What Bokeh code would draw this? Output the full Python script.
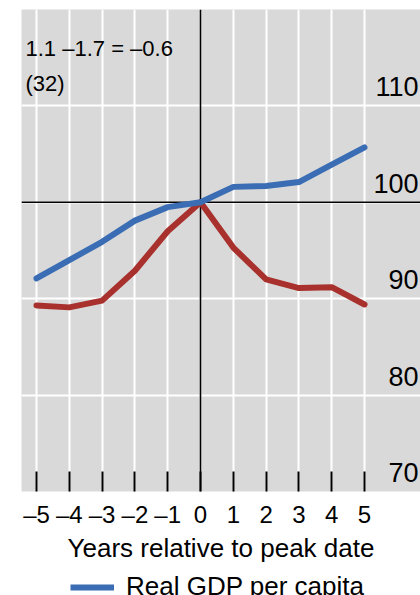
from bokeh.plotting import figure
from bokeh.layouts import column
from bokeh.models import FixedTicker, Grid, Span, Label, Legend, LegendItem, ColumnDataSource, Range1d
from bokeh.core.properties import value
from bokeh.embed import file_html
from bokeh.resources import INLINE

# ---- data ----
years = [-5, -4, -3, -2, -1, 0, 1, 2, 3, 4, 5]
real_gdp_per_capita = [92.1, 94.0, 95.9, 98.1, 99.5, 100.0, 101.6, 101.7, 102.1, 103.9, 105.7]
second_series = [89.3, 89.1, 89.8, 92.9, 97.0, 100.0, 95.3, 92.0, 91.1, 91.2, 89.4]
x_tick_labels = ["–5", "–4", "–3", "–2", "–1", "0", "1", "2", "3", "4", "5"]
y_tick_values = [70, 80, 90, 100, 110]
y_tick_labels = ["70", "80", "90", "100", "110"]
y_grid_values = [80, 90, 100, 110]
annotation_lines = ["1.1 –1.7 = –0.6", "(32)"]
legend_label = "Real GDP per capita"
x_axis_title = "Years relative to peak date"

# ---- style ----
FONT = "Liberation Sans"
BLUE = "#3a6db4"
RED = "#a8312d"
BG = "#d9d9d9"

X_START, X_END = -5.457, 6.707
Y_START, Y_END = 70, 120

p = figure(width=420, height=565, output_backend="svg", toolbar_location=None,
           x_range=Range1d(X_START, X_END), y_range=Range1d(Y_START, Y_END),
           y_axis_location=None, min_border_left=21, min_border_right=0,
           min_border_top=9, min_border_bottom=74)
p.background_fill_color = BG
p.border_fill_color = "white"
p.outline_line_color = None

# grid
p.xgrid.ticker = FixedTicker(ticks=years)
p.xgrid.grid_line_color = "white"
p.xgrid.grid_line_width = 2
ygrid = Grid(dimension=1, ticker=FixedTicker(ticks=y_grid_values),
             grid_line_color="white", grid_line_width=2)
p.add_layout(ygrid)

# zero lines
p.add_layout(Span(location=100, dimension="width", line_color="black", line_width=1.6, level="underlay"))
p.add_layout(Span(location=0, dimension="height", line_color="black", line_width=1.6, level="underlay"))

# x axis
ax = p.xaxis[0]
ax.ticker = FixedTicker(ticks=years)
ax.major_label_overrides = {y: lab for y, lab in zip(years, x_tick_labels)}
ax.axis_line_color = None
ax.major_tick_in = 20
ax.major_tick_out = 0
ax.major_tick_line_color = "black"
ax.major_tick_line_width = 2
ax.minor_tick_line_color = None
ax.major_label_text_font = FONT
ax.major_label_text_font_size = "24px"
ax.major_label_text_color = "black"
ax.major_label_standoff = 9
ax.axis_label = x_axis_title
ax.axis_label_text_font = FONT
ax.axis_label_text_font_size = "26px"
ax.axis_label_text_font_style = "normal"
ax.axis_label_text_color = "black"
ax.axis_label_standoff = 2

# series
src = ColumnDataSource(dict(x=years, gdp=real_gdp_per_capita, other=second_series))
r_red = p.line("x", "other", source=src, line_color=RED, line_width=6,
               line_cap="round", line_join="round")
r_blue = p.line("x", "gdp", source=src, line_color=BLUE, line_width=6,
                line_cap="round", line_join="round")

# y tick labels (drawn inside the panel, right side)
ysrc = ColumnDataSource(dict(y=y_tick_values, t=y_tick_labels, x=[X_END] * len(y_tick_values)))
p.text("x", "y", text="t", source=ysrc, text_align="right", text_baseline="alphabetic",
       x_offset=-2, y_offset=-19, text_font=value(FONT), text_font_size="27px", text_color="black")

# annotation
p.add_layout(Label(x=X_START, y=115.93, x_offset=4, text=annotation_lines[0], text_font=FONT,
                   text_font_size="22px", text_color="black", text_baseline="alphabetic"))
p.add_layout(Label(x=X_START, y=112.33, x_offset=4, text=annotation_lines[1], text_font=FONT,
                   text_font_size="22px", text_color="black", text_baseline="alphabetic"))

# legend strip (cut by the bottom edge, as in the reference)
p2 = figure(width=420, height=30, output_backend="svg", toolbar_location=None,
            x_range=Range1d(X_START, X_END), y_range=Range1d(0, 1),
            x_axis_location=None, y_axis_location=None,
            min_border_left=0, min_border_right=0, min_border_top=0, min_border_bottom=0)
p2.outline_line_color = None
p2.background_fill_color = "white"
p2.border_fill_color = "white"
p2.xgrid.visible = False
p2.ygrid.visible = False
# the series itself is the legend's renderer here; its values lie outside this strip's range
r_leg = p2.line("x", "gdp", source=src, line_color=BLUE, line_width=6)
legend = Legend(items=[LegendItem(label=legend_label, renderers=[r_leg])],
                location=(49, -7), orientation="vertical", padding=0, margin=0, spacing=0,
                glyph_width=44, glyph_height=20, label_standoff=12,
                label_text_font=FONT, label_text_font_size="26px", label_text_color="black",
                border_line_color=None, background_fill_alpha=0)
p2.add_layout(legend)

layout = column(p, p2, spacing=0)
open("out.html", "w").write(file_html(layout, INLINE))
